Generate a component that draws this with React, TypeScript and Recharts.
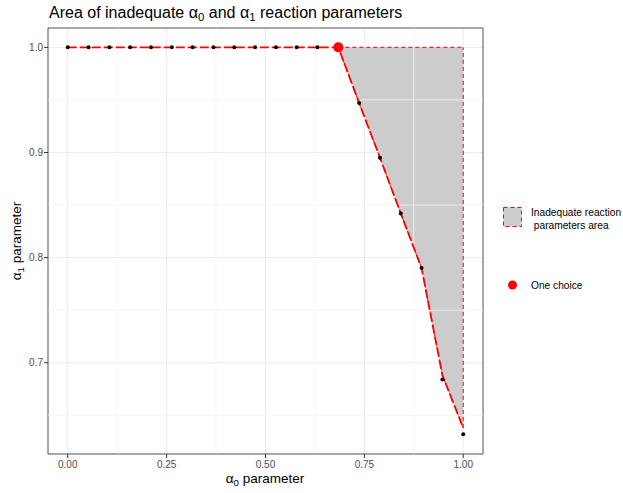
import React from "react";
import {
  ComposedChart,
  Area,
  Line,
  Scatter,
  XAxis,
  YAxis,
  CartesianGrid,
  ReferenceLine,
  ReferenceArea,
} from "recharts";

// alpha0 grid (x) and the alpha1 values found for each point
const alpha0 = [
  0, 0.0526, 0.1053, 0.1579, 0.2105, 0.2632, 0.3158, 0.3684, 0.4211, 0.4737,
  0.5263, 0.5789, 0.6316, 0.6842, 0.7368, 0.7895, 0.8421, 0.8947, 0.9474, 1.0,
];
const alpha1 = [
  1, 1, 1, 1, 1, 1, 1, 1, 1, 1, 1, 1, 1, 1, 0.947, 0.895, 0.842, 0.79, 0.684,
  0.632,
];
// smoothed boundary of the inadequate area
const boundary = [
  1, 1, 1, 1, 1, 1, 1, 1, 1, 1, 1, 1, 1, 1, 0.947, 0.895, 0.842, 0.79, 0.688,
  0.638,
];
const choice = { x: 0.6842, y: 1 };

const xTicks = [0, 0.25, 0.5, 0.75, 1];
const yTicks = [0.7, 0.8, 0.9, 1.0];
const xMinor = [0.125, 0.375, 0.625, 0.875];
const yMinor = [0.65, 0.75, 0.85, 0.95];

const xDomain = [-0.05, 1.05];
const yDomain = [0.6132, 1.0184];

const points = alpha0.map((x, i) => ({ x, y: alpha1[i] }));
const curve = alpha0.map((x, i) => ({ x, y: boundary[i] }));
const area = alpha0
  .map((x, i) => ({ x, range: [boundary[i], 1] }))
  .filter((d) => d.x >= choice.x);
const rightEdge = [
  { x: 1, y: boundary[boundary.length - 1] },
  { x: 1, y: 1 },
];

const FONT = "'Liberation Sans', Arial, sans-serif";

// greek alpha with a subscript that does not move the following text
const Alpha = ({ sub }: { sub: string }) => (
  <>
    <tspan>α</tspan>
    <tspan baselineShift="-28%" fontSize="0.72em">
      {sub}
    </tspan>
  </>
);

const App = () => {
  return (
    <div
      style={{
        position: "absolute",
        left: 0,
        top: 0,
        width: 623,
        height: 493,
        background: "#fff",
        fontFamily: FONT,
      }}
    >
      <ComposedChart
        width={623}
        height={493}
        margin={{ top: 28, right: 140, bottom: 0, left: 0 }}
      >
        {/* minor grid */}
        {xMinor.map((v) => (
          <ReferenceLine key={"xm" + v} x={v} stroke="#f4f4f4" strokeWidth={0.8} />
        ))}
        {yMinor.map((v) => (
          <ReferenceLine key={"ym" + v} y={v} stroke="#f4f4f4" strokeWidth={0.8} />
        ))}
        <CartesianGrid stroke="#ebebeb" strokeWidth={1} />

        <XAxis
          type="number"
          dataKey="x"
          domain={xDomain}
          allowDataOverflow
          ticks={xTicks}
          tickFormatter={(v) => v.toFixed(2)}
          tick={{ fill: "#4d4d4d", fontSize: 10, fontFamily: FONT }}
          tickLine={{ stroke: "#333" }}
          tickSize={4}
          tickMargin={3}
          axisLine={false}
          height={39}
        />
        <YAxis
          type="number"
          dataKey="y"
          domain={yDomain}
          allowDataOverflow
          ticks={yTicks}
          tickFormatter={(v) => v.toFixed(1)}
          tick={{ fill: "#4d4d4d", fontSize: 10, fontFamily: FONT }}
          tickLine={{ stroke: "#333" }}
          tickSize={4}
          tickMargin={1}
          axisLine={false}
          width={48}
        />

        {/* inadequate area */}
        <Area
          data={area}
          dataKey="range"
          type="linear"
          fill="#cccccc"
          fillOpacity={1}
          stroke="#ff0000"
          strokeWidth={1}
          strokeDasharray="4 3"
          isAnimationActive={false}
        />
        <Line
          data={rightEdge}
          dataKey="y"
          type="linear"
          stroke="#ff0000"
          strokeWidth={1}
          strokeDasharray="4 3"
          dot={false}
          isAnimationActive={false}
        />
        <Line
          data={curve}
          dataKey="y"
          type="linear"
          stroke="#ff0000"
          strokeWidth={1.8}
          strokeDasharray="9 3"
          dot={false}
          isAnimationActive={false}
        />
        <Scatter
          data={points}
          dataKey="y"
          fill="#000"
          shape={(p: any) => <circle cx={p.cx} cy={p.cy} r={2} fill="#000" />}
          isAnimationActive={false}
        />
        <Scatter
          data={[choice]}
          dataKey="y"
          fill="#ff0000"
          shape={(p: any) => <circle cx={p.cx} cy={p.cy} r={5} fill="#ff0000" />}
          isAnimationActive={false}
        />

        {/* panel border */}
        <ReferenceArea
          x1={xDomain[0]}
          x2={xDomain[1]}
          y1={yDomain[0]}
          y2={yDomain[1]}
          fill="none"
          stroke="#333"
          strokeWidth={0.8}
        />
      </ComposedChart>

      {/* titles and legend */}
      <svg
        width={623}
        height={493}
        style={{ position: "absolute", left: 0, top: 0, pointerEvents: "none" }}
        fontFamily={FONT}
      >
        <text x={49} y={18} fontSize={16} fill="#000">
          <tspan>Area of inadequate </tspan>
          <Alpha sub="0" />
          <tspan> and </tspan>
          <Alpha sub="1" />
          <tspan> reaction parameters</tspan>
        </text>
        <text x={265} y={482.5} fontSize={13.5} fill="#000" textAnchor="middle">
          <Alpha sub="0" />
          <tspan> parameter</tspan>
        </text>
        <text
          transform="translate(21,241) rotate(-90)"
          fontSize={13.5}
          fill="#000"
          textAnchor="middle"
        >
          <Alpha sub="1" />
          <tspan> parameter</tspan>
        </text>

        <rect
          x={503.5}
          y={207.5}
          width={18}
          height={19}
          fill="#cccccc"
          stroke="#ff0000"
          strokeDasharray="4 3"
        />
        <text x={531} y={216} fontSize={10.2} fill="#000">
          Inadequate reaction
        </text>
        <text x={531} y={228.5} fontSize={10.2} fill="#000" style={{ whiteSpace: "pre" }}>
          {" parameters area"}
        </text>
        <circle cx={512.5} cy={285} r={4.5} fill="#ff0000" />
        <text x={531} y={289} fontSize={10.2} fill="#000">
          One choice
        </text>
      </svg>
    </div>
  );
};

export default App;
